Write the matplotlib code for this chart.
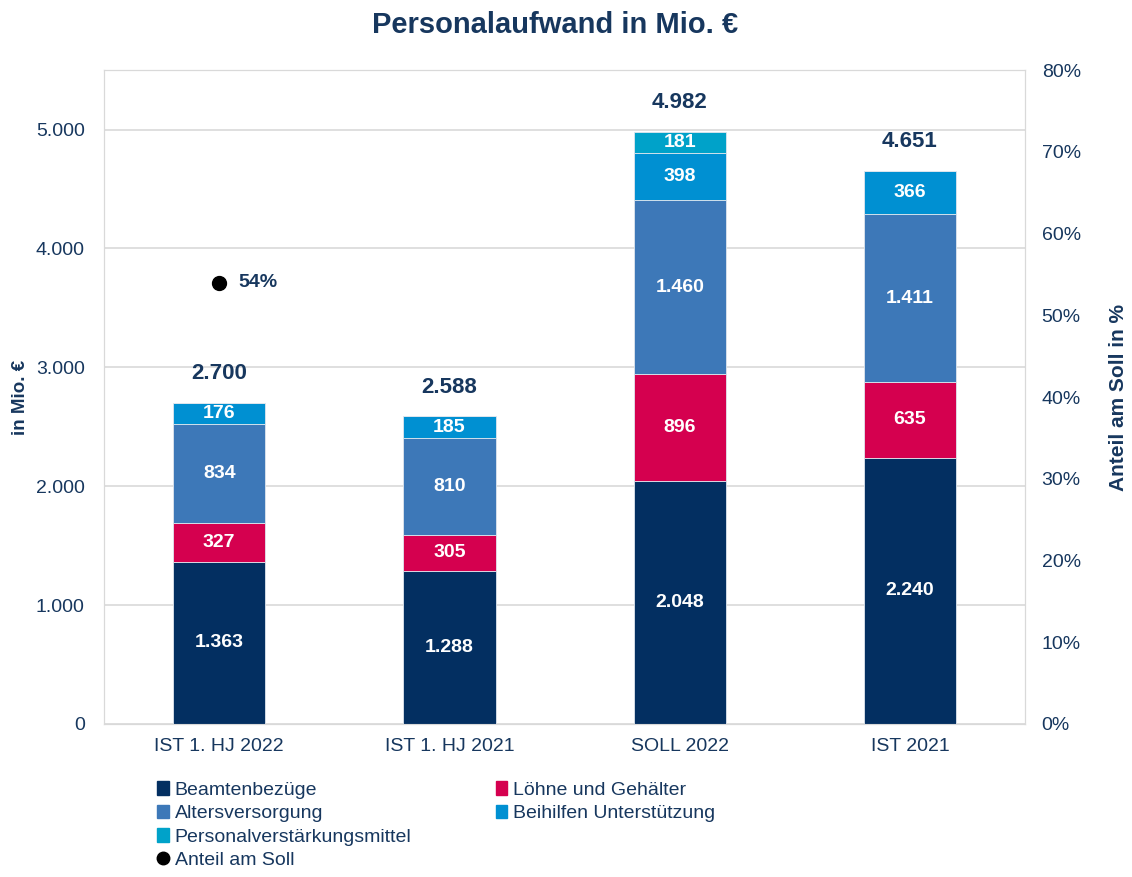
import matplotlib.pyplot as plt
import numpy as np
from matplotlib.lines import Line2D
from matplotlib.patches import Patch

plt.rcParams['font.family'] = ['Liberation Sans', 'DejaVu Sans']

# data
kategorien = ['IST 1. HJ 2022', 'IST 1. HJ 2021', 'SOLL 2022', 'IST 2021']
beamten = [1363, 1288, 2048, 2240]
loehne = [327, 305, 896, 635]
alters = [834, 810, 1460, 1411]
beihilfen = [176, 185, 398, 366]
personalverst = [0, 0, 181, 0]
summen = [2700, 2588, 4982, 4651]
anteil_soll = [54]  # nur IST 1. HJ 2022

serien = [('Beamtenbezüge', beamten, '#032f61'),
          ('Löhne und Gehälter', loehne, '#d5004f'),
          ('Altersversorgung', alters, '#3d78b8'),
          ('Beihilfen Unterstützung', beihilfen, '#0090d2'),
          ('Personalverstärkungsmittel', personalverst, '#00a2c9')]

navy = '#17375e'

def fmt(v):
    return '{:,}'.format(int(v)).replace(',', '.')

fig = plt.figure(figsize=(11.32, 8.77), dpi=100)
ax = fig.add_axes([0.092, 0.1745, 0.8135, 0.7455])
x = np.arange(len(kategorien))
unten = np.zeros(len(kategorien))
for name, werte, farbe in serien:
    werte = np.array(werte, dtype=float)
    ax.bar(x, werte, 0.4, bottom=unten, color=farbe, edgecolor='#dfe6ee', linewidth=0.6, zorder=3)
    for i, v in enumerate(werte):
        if v > 0:
            ax.text(x[i], unten[i] + v / 2, fmt(v), ha='center', va='center', color='white',
                    fontsize=14, fontweight='bold', zorder=4)
    unten += werte

for i, s in enumerate(summen):
    ax.annotate(fmt(s), (x[i], unten[i]), xytext=(0, 21), textcoords='offset points',
                ha='center', va='center', color=navy, fontsize=16, fontweight='bold', zorder=5)

ax.set_ylim(0, 5500)
ax.set_xlim(-0.5, 3.5)
ax.set_yticks([0, 1000, 2000, 3000, 4000, 5000])
ax.set_yticklabels([fmt(v) for v in [0, 1000, 2000, 3000, 4000, 5000]])
ax.set_xticks(x)
ax.set_xticklabels(kategorien)
ax.grid(axis='y', color='#d9d9d9', linewidth=1.2, zorder=0)
ax.tick_params(axis='both', length=0, labelsize=14, labelcolor=navy, pad=10)
ax.tick_params(axis='y', pad=14)
for sp in ax.spines.values():
    sp.set_color('#d9d9d9')
ax.set_ylabel('in Mio. €', color=navy, fontsize=13.5, fontweight='bold', labelpad=5)

ax2 = ax.twinx()
ax2.set_ylim(0, 80)
ax2.set_yticks(range(0, 81, 10))
ax2.set_yticklabels([f'{v}%' for v in range(0, 81, 10)])
ax2.tick_params(axis='y', length=0, labelsize=14, labelcolor=navy, pad=12)
for sp in ax2.spines.values():
    sp.set_color('#d9d9d9')
ax2.plot(x[:len(anteil_soll)], anteil_soll, 'o', color='black', markersize=10, zorder=5)
for i, v in enumerate(anteil_soll):
    ax2.annotate(f'{v}%', (x[i], v), xytext=(14, 0), textcoords='offset points',
                 ha='left', va='center', color=navy, fontsize=14, fontweight='bold')
ax2.set_ylabel('Anteil am Soll in %', color=navy, fontsize=15, fontweight='bold', labelpad=20)

fig.suptitle('Personalaufwand in Mio. €', x=0.49, y=0.987, color=navy, fontsize=21, fontweight='bold')

h = [Patch(color=f) for _, _, f in serien]
links = [h[0], h[2], h[4], Line2D([], [], marker='o', color='black', linestyle='', markersize=9)]
links_txt = ['Beamtenbezüge', 'Altersversorgung', 'Personalverstärkungsmittel', 'Anteil am Soll']
rechts = [h[1], h[3]]
rechts_txt = ['Löhne und Gehälter', 'Beihilfen Unterstützung']
kw = dict(frameon=False, fontsize=14, handlelength=0.6, handleheight=0.7, handletextpad=0.3,
          labelspacing=0.3, labelcolor=navy, borderaxespad=0)
fig.legend(links, links_txt, loc='upper left', bbox_to_anchor=(0.132, 0.118), **kw)
fig.legend(rechts, rechts_txt, loc='upper left', bbox_to_anchor=(0.431, 0.118), **kw)

fig.savefig('out.png', dpi=100)
